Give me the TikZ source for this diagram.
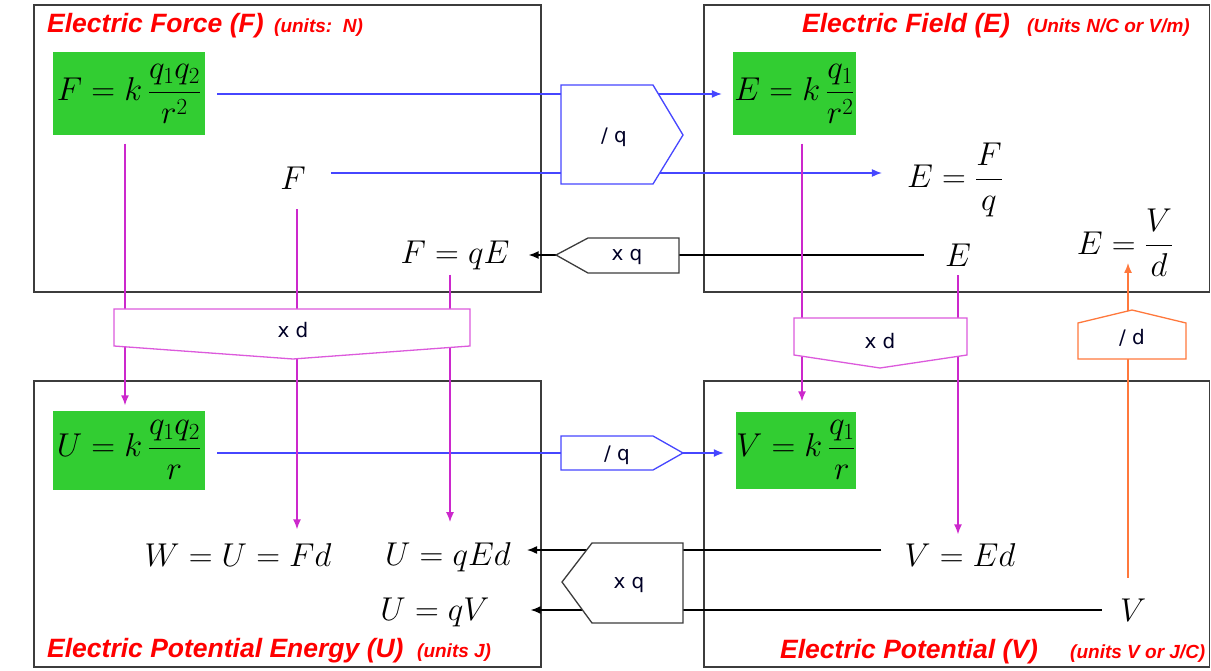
\RequirePackage{fix-cm}
\documentclass[tikz,border=0pt]{standalone}
\usepackage{amsmath}
\usepackage{fontspec}
\setsansfont{Liberation Sans}
\newfontfamily\lblfont{DejaVu Sans}
\usetikzlibrary{arrows.meta}
\definecolor{gbox}{RGB}{50,205,50}
\definecolor{bl}{RGB}{70,70,255}
\definecolor{mg}{RGB}{204,40,204}
\definecolor{mgl}{RGB}{220,90,220}
\definecolor{og}{RGB}{255,120,60}
\definecolor{framec}{RGB}{60,60,60}
\definecolor{ttl}{RGB}{255,0,0}
\begin{document}
\begin{tikzpicture}[x=1pt,y=-1pt,
 panel/.style={draw=framec,line width=1.3pt},
 gbx/.style={fill=gbox,inner sep=0pt,font=\fontsize{33}{38}\selectfont},
 eq/.style={inner sep=2pt,font=\fontsize{33}{38}\selectfont},
 ttlmain/.style={anchor=base west,inner sep=0pt,text=ttl,font=\fontsize{26.5}{32}\selectfont\sffamily\bfseries\itshape},
 ttlsub/.style={anchor=base west,inner sep=0pt,text=ttl,font=\fontsize{19}{23}\selectfont\sffamily\bfseries\itshape},
 opbox/.style={fill=white,line width=1.3pt},
 oplbl/.style={inner sep=0pt,font=\lblfont\fontsize{20}{24}\selectfont,text=black!85!blue},
 arr/.style={-{Latex[length=10pt,width=8pt]},line width=1.4pt},
]
\useasboundingbox (0,0) rectangle (1211,671);
% panels
\draw[panel] (34,5) rectangle (541,292);
\draw[panel] (704,5) rectangle (1209.5,292);
\draw[panel] (34,381) rectangle (541,667);
\draw[panel] (704,381) rectangle (1209.5,667);
% titles
\node[ttlmain] (t1) at (47,33) {Electric Force (F)};
\node[ttlsub] (t1s) at (274,33) {(units:\ \ N)};
\node[ttlmain] (t2) at (802,33) {Electric Field (E)};
\node[ttlsub] (t2s) at (1027,33) {(Units N/C or V/m)};
\node[ttlmain] (t3) at (47,657) {Electric Potential Energy (U)};
\node[ttlsub] (t3s) at (417,657) {(units J)};
\node[ttlmain] (t4) at (780,658) {Electric Potential (V)};
\node[ttlsub] (t4s) at (1070,658) {(units V or J/C)};
% green boxes
\node[gbx,minimum width=152pt,minimum height=83pt] (Fk) at (129,94) {$F=k\,\dfrac{q_1q_2}{r^2}$};
\node[gbx,minimum width=123pt,minimum height=83pt] (Ek) at (794.5,94) {$E=k\,\dfrac{q_1}{r^2}$};
\node[gbx,minimum width=152pt,minimum height=79pt] (Uk) at (129,450) {$U=k\,\dfrac{q_1q_2}{r}$};
\node[gbx,minimum width=120pt,minimum height=77pt] (Vk) at (796,450) {$V=k\,\dfrac{q_1}{r}$};
% equations
\node[eq] (Fn) at (293,178) {$F$};
\node[eq] (EFq) at (955,180) {$E=\dfrac{F}{q}$};
\node[eq] (FqE) at (455,255) {$F=qE$};
\node[eq] (En) at (958,255) {$E$};
\node[eq] (EVd) at (1125,243) {$E=\dfrac{V}{d}$};
\node[eq] (W) at (238,555) {$W=U=Fd$};
\node[eq] (UqEd) at (448,557) {$U=qEd$};
\node[eq] (VEd) at (960,555) {$V=Ed$};
\node[eq] (UqV) at (435,612) {$U=qV$};
\node[eq] (Vn) at (1133,610) {$V$};
% blue connectors
\draw[arr,bl,shorten <=12pt,shorten >=11pt] (Fk.east) -- (Ek.west);
\draw[arr,bl,shorten <=23pt,shorten >=23pt] ([yshift=5pt]Fn.east) -- ([yshift=5pt]Fn.east -| EFq.west);
\draw[arr,bl,shorten <=12pt,shorten >=12pt] ([yshift=-3pt]Uk.east) -- ([yshift=-3pt]Uk.east -| Vk.west);
% black connectors
\draw[arr,black,shorten <=19pt,shorten >=17pt] (En.west) -- (FqE.east);
\draw[arr,black,shorten <=21pt,shorten >=14pt] ([yshift=5pt]VEd.west) -- ([yshift=5pt]VEd.west -| UqEd.east);
\draw[arr,black,shorten <=16pt,shorten >=39pt] (Vn.west) -- (Vn.west -| UqV.east);
% magenta connectors
\draw[arr,mg,shorten <=8pt,shorten >=5pt] ([xshift=-4pt]Fk.south) -- ([xshift=-4pt]Uk.north);
\draw[arr,mg,shorten <=18pt,shorten >=12pt] ([xshift=4pt]Fn.south) -- ([xshift=4pt]Fn.south |- W.north);
\draw[arr,mg,shorten <=3pt,shorten >=18pt] ([xshift=-5pt]FqE.south) -- ([xshift=-5pt]FqE.south |- UqEd.north);
\draw[arr,mg,shorten <=8pt,shorten >=10pt] ([xshift=7.5pt]Ek.south) -- ([xshift=7.5pt]Ek.south |- Vk.north);
\draw[arr,mg,shorten <=7pt,shorten >=7pt] (En.south) -- (En.south |- VEd.north);
% orange connector
\draw[arr,og,shorten <=19pt,shorten >=-16pt] ([xshift=-5pt]Vn.north) -- ([xshift=-5pt]Vn.north |- EVd.south);
% operation shapes
\draw[bl,opbox] (561,85) -- (653,85) -- (683,135) -- (653,184) -- (561,184) -- cycle;
\node[oplbl] (op1) at (614,137) {/ q};
\draw[bl,opbox] (561,436) -- (653,436) -- (683,453) -- (653,470) -- (561,470) -- cycle;
\node[oplbl] (op2) at (617,455) {/ q};
\draw[framec,opbox] (556,255) -- (588,238) -- (679,238) -- (679,273) -- (588,273) -- cycle;
\node[oplbl] (op3) at (627,257) {x q};
\draw[framec,opbox] (562,582) -- (592,543) -- (683,543) -- (683,623) -- (592,623) -- cycle;
\node[oplbl] (op4) at (629,585) {x q};
\draw[mgl,opbox] (114,309) -- (470,309) -- (470,346) -- (293,359) -- (114,346) -- cycle;
\node[oplbl] (op5) at (293,330) {x d};
\draw[mgl,opbox] (794,318) -- (967,318) -- (967,355) -- (880,368) -- (794,355) -- cycle;
\node[oplbl] (op6) at (880,341) {x d};
\draw[og,opbox] (1078,359) -- (1078,323) -- (1132,310) -- (1186,323) -- (1186,359) -- cycle;
\node[oplbl] (op7) at (1132,338) {/ d};
\end{tikzpicture}
\end{document}
